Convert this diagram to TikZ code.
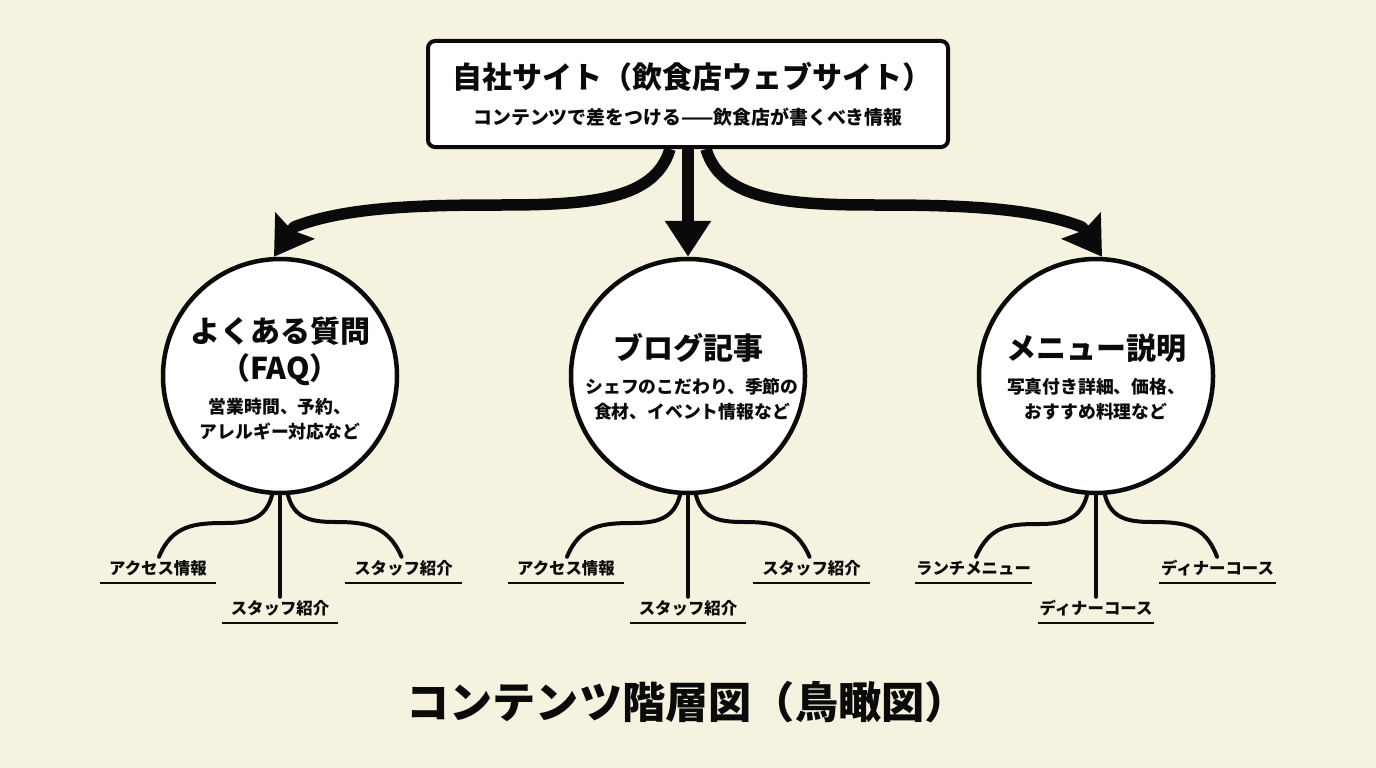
\documentclass[tikz,border=0pt]{standalone}
\usepackage{fontspec}
\setmainfont{Noto Sans CJK JP}
\usepackage{xcolor}
\usetikzlibrary{arrows.meta}
\definecolor{paper}{HTML}{F5F2DF}
\definecolor{ink}{HTML}{0A0A0A}
\tikzset{
    topic/.style={circle, draw=ink, line width=4.5pt, fill=white, minimum size=234pt, inner sep=0pt},
    root/.style={rectangle, rounded corners=7pt, draw=ink, line width=4pt, fill=white, minimum width=520pt, minimum height=106pt},
    label text/.style={text=ink, align=center, inner sep=0pt},
    bigflow/.style={draw=ink, line width=11.5pt, line join=round, -{Stealth[length=37pt,width=46pt,inset=5pt]}},
    straightflow/.style={draw=ink, line width=11.5pt, -{Triangle[length=36pt,width=44pt]}},
    twig/.style={draw=ink, line width=4pt, line cap=round},
    leaf/.style={text=ink, font=\fontsize{16.4}{18}\selectfont\bfseries, minimum width=116pt, minimum height=30pt, inner sep=0pt},
    leafrule/.style={draw=ink, line width=1.6pt}
}
\newcommand{\headsize}{\fontsize{30}{37}\selectfont\bfseries}
\newcommand{\notesize}{\fontsize{17.8}{24.5}\selectfont\bfseries}
\begin{document}
\begin{tikzpicture}[x=1pt,y=-1pt]
    \useasboundingbox[fill=paper] (0,0) rectangle (1376,768);
    % Top box
    \node[root] (site) at (688,94) {};
    \node[label text, font=\headsize] (sitehead) at (692,77) {自社サイト（飲食店ウェブサイト）};
    \node[label text, font=\fontsize{18.9}{20}\selectfont\bfseries] (sitenote) at (688,117) {コンテンツで差をつける——飲食店が書くべき情報};
    % Topic circles
    \node[topic] (faq) at (280,376) {};
    \node[topic] (blog) at (688,376) {};
    \node[topic] (menu) at (1096,376) {};
    \node[label text, font=\headsize] (faqhead) at (280,351) {よくある質問\\（FAQ）};
    \node[label text, font=\notesize] (faqnote) at (280,419) {営業時間、予約、\\アレルギー対応など};
    \node[label text, font=\headsize] (bloghead) at (688,348) {ブログ記事};
    \node[label text, font=\notesize] (blognote) at (692,399) {シェフのこだわり、季節の\\食材、イベント情報など};
    \node[label text, font=\headsize] (menuhead) at (1096,348) {メニュー説明};
    \node[label text, font=\notesize] (menunote) at (1096,399) {写真付き詳細、価格、\\おすすめ料理など};
    % Big arrows
    \draw[bigflow] ([xshift=-18pt]site.south) .. controls (655,200) and (590,205) .. (500,205) .. controls (420,205) and (345,207) .. (294,227) -- ([xshift=-6pt]faq.north);
    \draw[straightflow] (site.south) -- (blog.north);
    \draw[bigflow] ([xshift=18pt]site.south) .. controls (721,200) and (786,205) .. (876,205) .. controls (956,205) and (1031,207) .. (1082,227) -- ([xshift=6pt]menu.north);
    % Leaves under FAQ
    \node[leaf] (faqleft) at (158,568) {アクセス情報};
    \node[leaf] (faqmid) at (280,608) {スタッフ紹介};
    \node[leaf] (faqright) at (403.5,568) {スタッフ紹介};
    \draw[leafrule] (faqleft.south west) -- (faqleft.south east);
    \draw[leafrule] (faqmid.south west) -- (faqmid.south east);
    \draw[leafrule] (faqright.south west) -- (faqright.south east);
    \draw[twig] ([xshift=-8pt]faq.south) .. controls (266,518) and (250,523) .. (225,523) .. controls (195,523) and (172,525) .. ([xshift=1pt,yshift=-4pt]faqleft.north);
    \draw[twig] (faq.south) -- ([yshift=-4pt]faqmid.north);
    \draw[twig] ([xshift=8pt]faq.south) .. controls (294,518) and (310,522) .. (335,522) .. controls (365,522) and (388,525) .. ([xshift=-2pt,yshift=-4pt]faqright.north);
    % Leaves under blog
    \node[leaf] (blogleft) at (566,568) {アクセス情報};
    \node[leaf] (blogmid) at (688,608) {スタッフ紹介};
    \node[leaf] (blogright) at (811.5,568) {スタッフ紹介};
    \draw[leafrule] (blogleft.south west) -- (blogleft.south east);
    \draw[leafrule] (blogmid.south west) -- (blogmid.south east);
    \draw[leafrule] (blogright.south west) -- (blogright.south east);
    \draw[twig] ([xshift=-8pt]blog.south) .. controls (674,518) and (658,523) .. (633,523) .. controls (603,523) and (580,525) .. ([xshift=1pt,yshift=-4pt]blogleft.north);
    \draw[twig] (blog.south) -- ([yshift=-4pt]blogmid.north);
    \draw[twig] ([xshift=8pt]blog.south) .. controls (702,518) and (718,522) .. (743,522) .. controls (773,522) and (796,525) .. ([xshift=-2pt,yshift=-4pt]blogright.north);
    % Leaves under menu
    \node[leaf] (menuleft) at (973.5,568) {ランチメニュー};
    \node[leaf] (menumid) at (1096,608) {ディナーコース};
    \node[leaf] (menuright) at (1217.5,568) {ディナーコース};
    \draw[leafrule] (menuleft.south west) -- (menuleft.south east);
    \draw[leafrule] (menumid.south west) -- (menumid.south east);
    \draw[leafrule] (menuright.south west) -- (menuright.south east);
    \draw[twig] ([xshift=-9pt]menu.south) .. controls (1081,518) and (1065,524) .. (1040,524) .. controls (1010,524) and (990,525) .. ([xshift=2.5pt,yshift=-4pt]menuleft.north);
    \draw[twig] (menu.south) -- ([yshift=-4pt]menumid.north);
    \draw[twig] ([xshift=9pt]menu.south) .. controls (1111,518) and (1127,522) .. (1152,522) .. controls (1185,522) and (1205,525) .. ([xshift=-0.5pt,yshift=-4pt]menuright.north);
    % Caption
    \node[label text, font=\fontsize{43.2}{46}\selectfont\bfseries] (caption) at (687,702) {コンテンツ階層図（鳥瞰図）};
\end{tikzpicture}
\end{document}
